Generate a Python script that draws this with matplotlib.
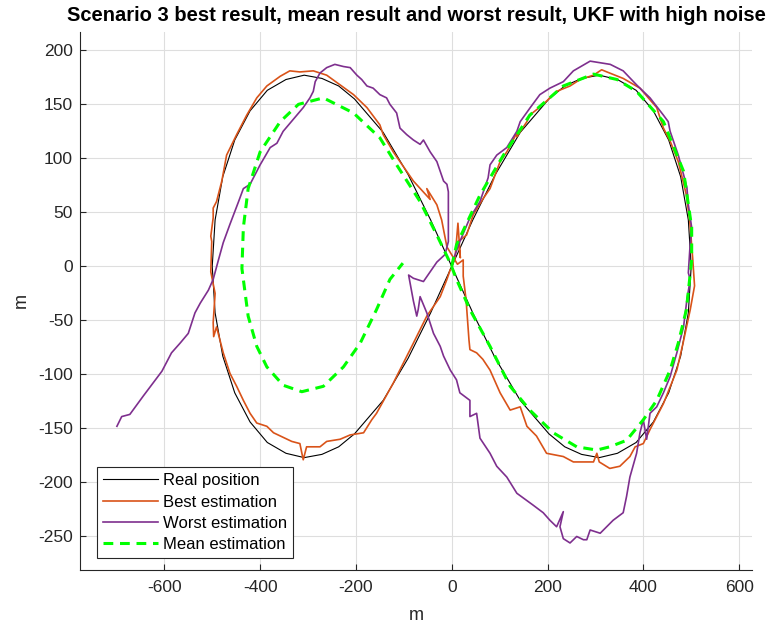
import numpy as np
import matplotlib.pyplot as plt

plt.rcParams['font.family'] = ['Liberation Sans', 'DejaVu Sans']
plt.rcParams['axes.unicode_minus'] = False

# ---------------- data (metres) ----------------
real_x = [500, 494, 478, 453, 421, 385, 346, 308, 271, 236, 203, 143, 91, 44, 0,
          -44, -91, -143, -203, -236, -271, -308, -346, -385, -421, -453, -478, -494, -500,
          -494, -478, -453, -421, -385, -346, -308, -271, -236, -203, -143, -91, -44, 0,
          44, 91, 143, 203, 236, 271, 308, 346, 385, 421, 453, 478, 494, 500]
real_y = [0, 43, 83, 117, 144, 163, 173, 177, 174, 167, 155, 124, 85, 43, 0,
          -43, -85, -124, -155, -167, -174, -177, -173, -163, -144, -117, -83, -43, 0,
          43, 83, 117, 144, 163, 173, 177, 174, 167, 155, 124, 85, 43, 0,
          -43, -85, -124, -155, -167, -174, -177, -173, -163, -144, -117, -83, -43, 0]

best_x = [0, 7, 13, 18, 14, 31, 45, 66, 80, 101, 115, 139, 136, 157, 163, 191, 212, 219, 247, 268,
          296, 313, 324, 358, 393, 428, 442, 456, 473, 490, 497, 503, 507, 498, 483, 470, 442, 414,
          400, 383, 372, 351, 330, 308, 303, 296, 254, 233, 198, 177, 157, 143, 122, 101, 80, 65,
          52, 38, 36, 30, 24, 24, 12, -10, -21, -31, -52, -45, -80, -108, -122, -143, -150, -177,
          -205, -233, -261, -275, -289, -317, -338, -358, -386, -407, -428, -449, -470, -480, -491,
          -498, -498, -503, -501, -503, -494, -498, -497, -491, -477, -463, -449, -435, -421, -407,
          -386, -372, -334, -317, -310, -303, -275, -261, -233, -212, -184, -167, -157, -122, -80,
          -52, -24, -10, -3]
best_y = [0, 8, 40, 8, 23, 29, 48, 63, 72, 97, 106, 126, 120, 134, 140, 150, 159, 162, 167, 173,
          177, 182, 180, 174, 165, 147, 128, 116, 97, 66, 42, 8, -18, -40, -71, -96, -127, -151,
          -164, -167, -176, -185, -187, -181, -173, -181, -181, -176, -173, -157, -148, -130, -133,
          -117, -96, -86, -80, -77, -68, -31, -9, 6, 2, 18, 43, 57, 72, 62, 79, 97, 106, 122, 131,
          147, 159, 168, 177, 179, 181, 180, 181, 176, 167, 156, 140, 122, 103, 79, 60, 54, 45, 28,
          23, -5, -25, -52, -65, -56, -80, -99, -111, -124, -136, -145, -148, -154, -162, -164,
          -179, -167, -167, -162, -160, -156, -154, -142, -136, -108, -71, -46, -28, -12, -3]

worst_x = [0, 17, 38, 59, 76, 80, 94, 115, 136, 143, 164, 184, 205, 233, 254, 289, 331, 358, 386,
           414, 442, 452, 456, 473, 484, 491, 494, 501, 497, 494, 498, 491, 484, 470, 456, 442, 428,
           414, 407, 400, 393, 386, 372, 365, 358, 337, 310, 289, 282, 275, 261, 247, 233, 226, 233,
           219, 205, 191, 170, 136, 115, 94, 80, 59, 52, 38, 38, 17, 10, -3, -17, -24, -38, -52,
           -66, -70, -73, -80, -87, -90, -80, -59, -31, -14, -7, -7, -10, -17, -31, -45, -59, -66,
           -80, -94, -108, -115, -129, -136, -150, -164, -177, -188, -198, -212, -226, -244, -261,
           -275, -285, -289, -296, -310, -331, -352, -365, -379, -400, -421, -435, -445, -463, -477,
           -487, -498, -508, -525, -536, -550, -567, -585, -605, -644, -672, -689, -699]
worst_y = [2, 23, 45, 60, 82, 94, 103, 110, 125, 134, 147, 159, 165, 171, 181, 190, 187, 181, 168,
           156, 140, 134, 125, 103, 85, 73, 57, 36, 15, -6, -12, -31, -56, -80, -102, -117, -130,
           -136, -160, -142, -154, -173, -195, -213, -228, -235, -247, -244, -253, -253, -250, -256,
           -252, -241, -227, -241, -235, -228, -221, -210, -195, -185, -173, -159, -136, -139, -124,
           -117, -105, -96, -83, -74, -62, -43, -28, -40, -46, -32, -15, -8, -11, -14, 4, 11, 23,
           69, 76, 79, 97, 106, 117, 113, 117, 122, 128, 142, 150, 156, 159, 165, 167, 173, 177,
           184, 185, 187, 184, 179, 171, 162, 156, 147, 136, 125, 114, 110, 94, 76, 72, 60, 39, 22,
           6, -12, -22, -34, -43, -62, -71, -80, -97, -120, -137, -139, -148]

mean_x = [0, 10, 59, 108, 163, 233, 296, 345, 386, 442, 484, 501, 501, 490, 473, 456, 428, 400,
          365, 330, 303, 261, 212, 163, 122, 80, 38, 10, -3, -31, -66, -115, -150, -205, -268,
          -320, -358, -400, -425, -435, -438, -425, -407, -386, -352, -313, -268, -226, -191,
          -157, -129, -102]
mean_y = [0, 20, 66, 103, 140, 167, 178, 173, 162, 134, 88, 36, 6, -40, -71, -96, -124, -142,
          -161, -167, -170, -167, -154, -133, -111, -74, -40, -12, 3, 29, 60, 94, 119, 142, 156,
          150, 134, 106, 72, 36, -2, -46, -74, -93, -110, -116, -111, -93, -71, -40, -12, 3]

# ---------------- figure ----------------
fig = plt.figure(figsize=(7.71, 6.28), dpi=100)
ax = fig.add_axes([0.1038, 0.0924, 0.8716, 0.8567])

ax.plot(real_x, real_y, color='black', lw=0.8, label='Real position')
ax.plot(best_x, best_y, color='#D95319', lw=1.2, label='Best estimation')
ax.plot(worst_x, worst_y, color='#7E2F8E', lw=1.2, label='Worst estimation')
ax.plot(mean_x, mean_y, color='#00FF00', lw=2.2, ls=(0, (3.2, 2.2)), label='Mean estimation')

ax.set_xlim(-776, 627)
ax.set_ylim(-281, 217)
ax.set_xticks([-600, -400, -200, 0, 200, 400, 600])
ax.set_yticks([-250, -200, -150, -100, -50, 0, 50, 100, 150, 200])

ax.grid(True, color='#dedede', lw=0.8)
ax.set_axisbelow(True)
for side in ['top', 'right']:
    ax.spines[side].set_visible(False)
for side in ['left', 'bottom']:
    ax.spines[side].set_color('#262626')
    ax.spines[side].set_linewidth(0.8)
ax.tick_params(direction='in', length=4, width=0.8, colors='#262626', labelsize=12.5)
ax.tick_params(axis='x', pad=7)
ax.tick_params(axis='y', pad=5)

ax.set_xlabel('m', fontsize=13, color='#262626', labelpad=9)
ax.set_ylabel('m', fontsize=13, color='#262626', labelpad=6)
ax.set_title('Scenario 3 best result, mean result and worst result, UKF with high noise',
             fontsize=14.5, fontweight='bold', pad=8)

leg = ax.legend(loc='lower left', bbox_to_anchor=(0.025, 0.022), borderaxespad=0,
                fontsize=12, handlelength=3.3, handletextpad=0.3, fancybox=False,
                framealpha=1, edgecolor='#262626', labelspacing=0.38, borderpad=0.35)
leg.get_frame().set_linewidth(0.8)

fig.savefig('out.png', dpi=100)
